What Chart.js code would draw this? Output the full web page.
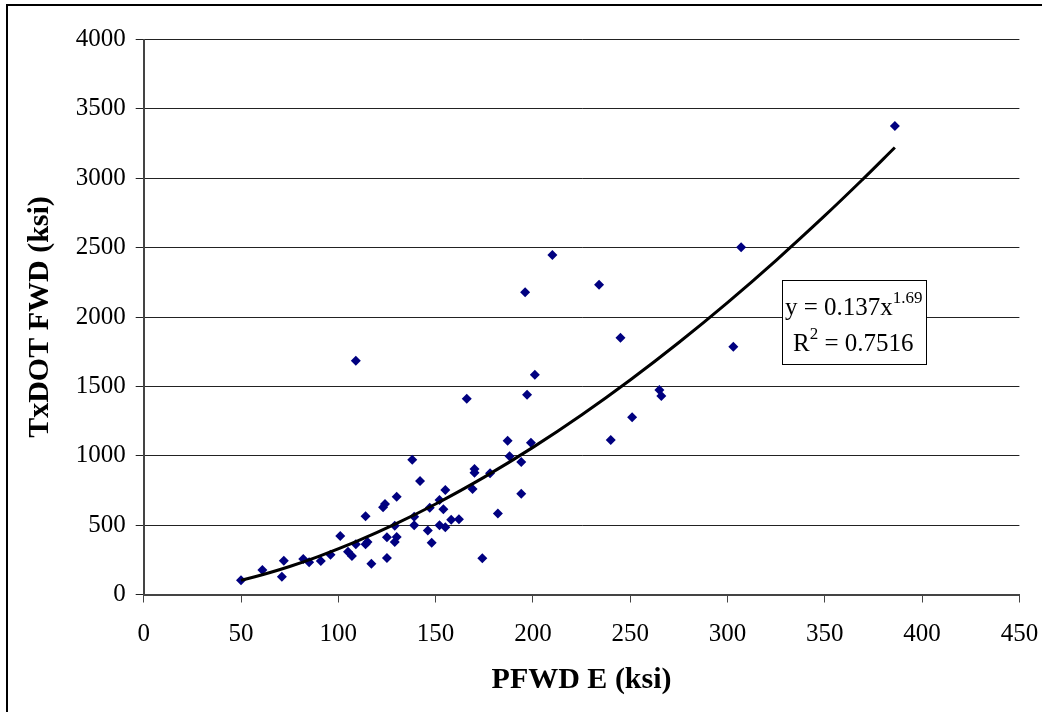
<!DOCTYPE html>
<html>
<head>
<meta charset="utf-8">
<script src="https://cdn.jsdelivr.net/npm/chart.js@4"></script>
<style>
  html, body { margin: 0; padding: 0; background: #fff; }
  #wrap { width: 1042px; height: 712px; }
</style>
</head>
<body>
<div id="wrap"><canvas id="myChart" width="1042" height="712"></canvas></div>
<script>
// PFWD E (ksi) readings and matching TxDOT FWD (ksi)
const pfwdE = [
  50, 61, 71, 72, 82, 85, 91, 96, 101, 105, 107, 109, 109, 114, 115, 114,
  117, 123, 124, 125, 125, 129, 130, 129, 130, 138, 139, 139, 142, 146, 147,
  148, 152, 152, 154, 155, 155, 158, 162, 166, 169, 170, 170, 174, 178, 182,
  187, 188, 194, 194, 197, 196, 199, 201, 210, 234, 240, 245, 251, 265, 266,
  303, 307, 386,
];
const txdotFwd = [
  102, 177, 128, 244, 256, 232, 241, 287, 422, 309, 277, 362, 1685, 362, 378, 564,
  222, 628, 652, 263, 412, 378, 414, 496, 705, 972, 561, 499, 818, 462, 626,
  373, 499, 681, 614, 753, 484, 539, 542, 1411, 760, 904, 878, 261, 873, 583,
  1108, 996, 955, 727, 1440, 2178, 1094, 1584, 2447, 2233, 1114, 1851, 1277, 1474, 1431,
  1786, 2502, 3377,
];

// power trendline as printed on the chart: y = 0.137 x^1.69
const trendCoef = 0.137;
const trendExp = 1.69;
const trendX = [50, 60, 75, 90, 110, 130, 150, 175, 200, 225, 250, 275, 300, 325, 350, 370, 386];

const xTicks = [0, 50, 100, 150, 200, 250, 300, 350, 400, 450];
const yTicks = [0, 500, 1000, 1500, 2000, 2500, 3000, 3500, 4000];

const points = pfwdE.map((x, i) => ({ x: x, y: txdotFwd[i] }));
const trend = trendX.map(x => ({ x: x, y: trendCoef * Math.pow(x, trendExp) }));

const serif = "'Liberation Serif', 'Times New Roman', serif";

const frame = {
  id: "frame",
  beforeDraw(chart) {
    const c = chart.ctx;
    c.save();
    c.fillStyle = "#fff";
    c.fillRect(0, 0, chart.width, chart.height);
    c.strokeStyle = "#000";
    c.lineWidth = 2;
    c.strokeRect(7, 5, chart.width + 20, chart.height + 20);
    c.restore();
  },
  afterDraw(chart) {
    const c = chart.ctx;
    c.save();
    // equation box
    c.fillStyle = "#fff";
    c.fillRect(782, 280, 144, 84);
    c.strokeStyle = "#000";
    c.lineWidth = 1;
    c.strokeRect(782.5, 280.5, 144, 84);
    c.fillStyle = "#000";
    c.textBaseline = "alphabetic";
    c.font = "25px " + serif;
    c.fillText("y = 0.137x", 785, 315);
    let w = c.measureText("y = 0.137x").width;
    c.font = "17px " + serif;
    c.fillText("1.69", 785 + w, 303);
    c.font = "25px " + serif;
    c.fillText("R", 793, 351);
    let rw = c.measureText("R").width;
    c.font = "17px " + serif;
    c.fillText("2", 793 + rw, 339);
    let sw = c.measureText("2").width;
    c.font = "25px " + serif;
    c.fillText(" = 0.7516", 793 + rw + sw, 351);
    c.restore();
  },
};

let myChart = document.getElementById("myChart").getContext("2d");
let scatterChart = new Chart(myChart, {
  type: "scatter",
  data: {
    datasets: [
      {
        label: "Power trend",
        data: trend,
        showLine: true,
        borderColor: "#000",
        borderWidth: 3,
        pointRadius: 0,
        tension: 0.4,
        order: 0,
      },
      {
        label: "TxDOT FWD",
        data: points,
        pointStyle: "rectRot",
        pointRadius: 5,
        backgroundColor: "#000080",
        borderColor: "#000080",
        borderWidth: 0,
        order: 1,
      },
    ],
  },
  options: {
    responsive: false,
    animation: false,
    layout: { padding: { left: 8, right: 22.6, top: 39.5, bottom: 0 } },
    plugins: {
      legend: { display: false },
      tooltip: { enabled: false },
    },
    scales: {
      x: {
        type: "linear",
        min: 0,
        max: 450,
        afterBuildTicks: s => { s.ticks = xTicks.map(v => ({ value: v })); },
        afterFit: s => { s.height = 712 - 594.5; s.paddingRight = 0; s.paddingLeft = 0; },
        border: { color: "#444", width: 2 },
        grid: { drawOnChartArea: false, drawTicks: true, tickLength: 8, color: "#444", lineWidth: 1 },
        ticks: { color: "#000", font: { family: serif, size: 25 }, padding: 17, callback: v => String(v) },
        title: {
          display: true,
          text: "PFWD E (ksi)",
          color: "#000",
          font: { family: serif, size: 30, weight: "bold" },
          padding: { top: 0, bottom: 14 },
        },
      },
      y: {
        type: "linear",
        min: 0,
        max: 4000,
        afterBuildTicks: s => { s.ticks = yTicks.map(v => ({ value: v })); },
        afterFit: s => { s.width = 143.7 - 8; s.paddingTop = 0; s.paddingBottom = 0; },
        border: { color: "#444", width: 2 },
        grid: { color: "#222", lineWidth: 1, tickLength: 8 },
        ticks: { color: "#000", font: { family: serif, size: 25 }, padding: 10, callback: v => String(v) },
        title: {
          display: true,
          text: "TxDOT FWD (ksi)",
          color: "#000",
          font: { family: serif, size: 30, weight: "bold" },
          padding: { top: 14, bottom: 0 },
        },
      },
    },
  },
  plugins: [frame],
});
</script>
</body>
</html>
